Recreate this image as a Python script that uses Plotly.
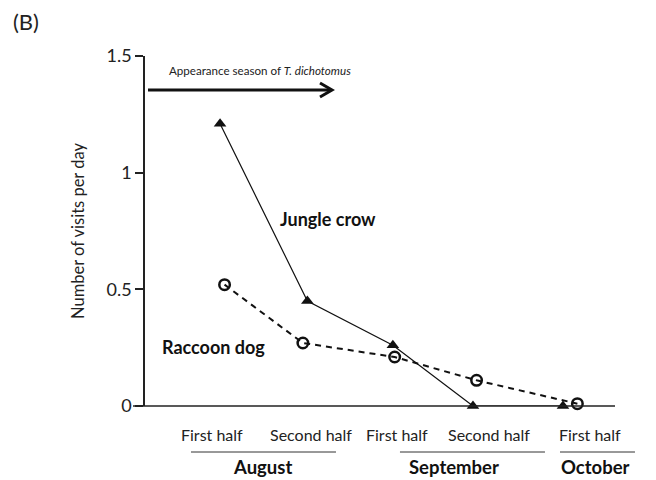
import plotly.graph_objects as go

# ---- data ----
periods = ["First half", "Second half", "First half", "Second half", "First half"]
period_x = [1.0, 2.1, 3.06, 4.08, 5.2]
months = ["August", "September", "October"]
month_x = [1.567, 3.69, 5.256]
month_span = [(0.767, 2.378), (3.089, 4.70), (4.867, 5.70)]
crow_x = [1.09, 2.06, 3.01, 3.90, 4.90]
crow = [1.21, 0.45, 0.26, 0.0, 0.0]
raccoon_x = [1.14, 2.01, 3.03, 3.94, 5.06]
raccoon = [0.52, 0.27, 0.21, 0.11, 0.01]
yticks = [0, 0.5, 1, 1.5]
yticklabels = ["0", "0.5", "1", "1.5"]

FONT = "Lato"
W, H = 656, 480
L, R, T, B = 145, 615, 56, 406
XR = (0.256, 5.478)

def px(x):  # data x -> paper
    return (x - XR[0]) / (XR[1] - XR[0])

def pxp(p):  # pixel x -> paper
    return (p - L) / (R - L)

def pyp(p):  # pixel y -> paper
    return (B - p) / (B - T)

fig = go.Figure()
fig.add_trace(go.Scatter(
    x=raccoon_x, y=raccoon, mode="lines+markers", cliponaxis=False,
    line=dict(color="#111", width=2, dash="6px,5px"),
    marker=dict(symbol="circle-open", size=10.5, color="#111", line=dict(width=2.5, color="#111")),
    showlegend=False))
fig.add_trace(go.Scatter(
    x=crow_x, y=crow, mode="lines+markers", cliponaxis=False,
    line=dict(color="#111", width=1.2),
    marker=dict(symbol="triangle-up", size=11, color="#111"),
    showlegend=False))

shapes = []
# x axis line (extends a little left of y axis)
shapes.append(dict(type="line", xref="paper", yref="paper", x0=pxp(133), x1=pxp(615), y0=0, y1=0,
                   line=dict(color="#222", width=1.5)))
# arrow of appearance season
shapes.append(dict(type="line", xref="paper", yref="paper", x0=pxp(148), x1=pxp(331), y0=pyp(90), y1=pyp(90),
                   line=dict(color="#111", width=3)))
shapes.append(dict(type="path", xref="paper", yref="paper",
                   path=f"M {pxp(320)} {pyp(83)} L {pxp(332)} {pyp(90)} L {pxp(320)} {pyp(97)}",
                   line=dict(color="#111", width=3)))
# month underlines
for (a, b) in month_span:
    shapes.append(dict(type="line", xref="paper", yref="paper", x0=px(a), x1=px(b), y0=pyp(452), y1=pyp(452),
                       line=dict(color="#333", width=1)))

ann = []
for lab, x in zip(periods, period_x):
    ann.append(dict(x=px(x), y=pyp(435), xref="paper", yref="paper", text=lab, showarrow=False,
                    font=dict(size=16, color="#222", family=FONT), xanchor="center", yanchor="middle"))
for lab, x in zip(months, month_x):
    ann.append(dict(x=px(x), y=pyp(467), xref="paper", yref="paper", text=f"<b>{lab}</b>", showarrow=False,
                    font=dict(size=18.5, color="#111", family=FONT), xanchor="center", yanchor="middle"))
ann.append(dict(x=pxp(167), y=pyp(70), xref="paper", yref="paper",
                text="Appearance season of <i>T. dichotomus</i>", showarrow=False,
                font=dict(size=11.6, color="#222", family=FONT), xanchor="left", yanchor="middle"))
ann.append(dict(x=pxp(278), y=pyp(219), xref="paper", yref="paper", text="<b>Jungle crow</b>", showarrow=False,
                font=dict(size=18, color="#111", family=FONT), xanchor="left", yanchor="middle"))
ann.append(dict(x=pxp(160), y=pyp(347), xref="paper", yref="paper", text="<b>Raccoon dog</b>", showarrow=False,
                font=dict(size=18, color="#111", family=FONT), xanchor="left", yanchor="middle"))
ann.append(dict(x=pxp(11), y=pyp(22), xref="paper", yref="paper", text="(B)", showarrow=False,
                font=dict(size=22, color="#222", family=FONT), xanchor="left", yanchor="middle"))

fig.update_layout(
    width=W, height=H,
    margin=dict(l=L, r=W - R, t=T, b=H - B),
    paper_bgcolor="white", plot_bgcolor="white",
    font=dict(family=FONT, color="#222"),
    shapes=shapes, annotations=ann,
    xaxis=dict(range=list(XR), showline=False, showgrid=False, zeroline=False,
               showticklabels=False, ticks=""),
    yaxis=dict(range=[0, 1.5], tickvals=yticks, ticktext=yticklabels, showline=True,
               linecolor="#222", linewidth=1.5, ticks="outside", ticklen=8, tickwidth=1.5,
               tickcolor="#222", showgrid=False, zeroline=False,
               tickfont=dict(size=18, family=FONT, color="#222"),
               title=dict(text="Number of visits per day", font=dict(size=16.5, family=FONT, color="#222"),
                          standoff=18)),
)

fig.write_html("out.html", config={"displayModeBar": False},
               post_script="document.body.style.margin='0';")
